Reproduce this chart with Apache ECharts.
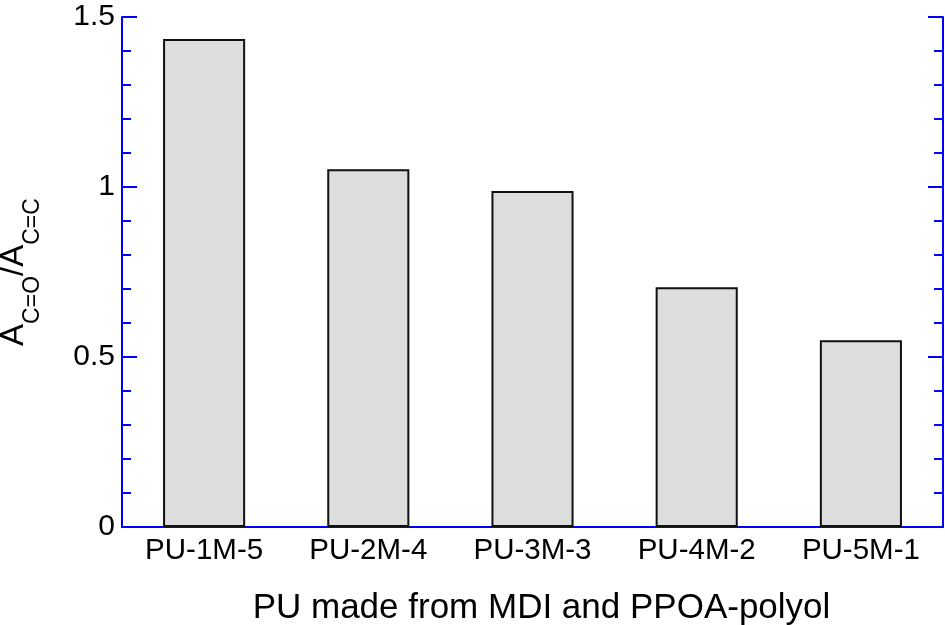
<!DOCTYPE html>
<html><head><meta charset="utf-8">
<script src="https://cdn.jsdelivr.net/npm/echarts@6/dist/echarts.min.js"></script>
<style>html,body{margin:0;padding:0;background:#fff}#c{width:945px;height:625px}</style>
</head><body><div id="c"></div>
<script>
const categories = ['PU-1M-5', 'PU-2M-4', 'PU-3M-3', 'PU-4M-2', 'PU-5M-1'];
const ratioValues = [1.435, 1.052, 0.988, 0.705, 0.549];
const yTicks = [0, 0.5, 1, 1.5];
const xTitle = 'PU made from MDI and PPOA-polyol';

const blue = '#0000ff';
const font = 'Liberation Sans, Arial, sans-serif';
const chart = echarts.init(document.getElementById('c'));
const yLab = v => (yTicks.indexOf(v) >= 0 ? String(v) : '');
chart.setOption({
  animation: false,
  grid: { left: 122, right: 2, top: 17, bottom: 98, containLabel: false, outerBoundsMode: 'none' },
  xAxis: [{
    type: 'category', data: categories, position: 'bottom',
    axisLine: { lineStyle: { color: blue, width: 2 } },
    axisTick: { inside: true, length: 15, lineStyle: { color: blue, width: 2 }, alignWithLabel: false },
    axisLabel: { color: '#000', fontSize: 29.5, fontFamily: font, margin: 9 },
    name: xTitle, nameLocation: 'middle', nameGap: 64,
    nameTextStyle: { color: '#000', fontSize: 35, fontFamily: font, padding: [0, 0, 0, 18] }
  }, {
    type: 'category', data: categories, position: 'top',
    axisLine: { lineStyle: { color: blue, width: 2 } },
    axisTick: { inside: true, length: 15, lineStyle: { color: blue, width: 2 } },
    axisLabel: { show: false }
  }],
  yAxis: [{
    type: 'value', min: 0, max: 1.5, interval: 0.5, position: 'left',
    axisLine: { show: true, lineStyle: { color: blue, width: 2 } },
    axisTick: { show: true, inside: true, length: 15, lineStyle: { color: blue, width: 2 } },
    minorTick: { show: true, splitNumber: 5, length: 9, lineStyle: { color: blue, width: 2 } },
    splitLine: { show: false },
    axisLabel: { color: '#000', fontSize: 30, fontFamily: font, margin: 7, formatter: yLab },
    name: '{a|A}{s|C=O}{a|/A}{s|C=C}', nameLocation: 'middle', nameRotate: 90, nameGap: 92,
    nameTextStyle: {
      color: '#000', fontFamily: font,
      rich: {
        a: { fontSize: 33, fontFamily: font, color: '#000', verticalAlign: 'bottom', lineHeight: 36 },
        s: { fontSize: 23, fontFamily: font, color: '#000', verticalAlign: 'bottom', lineHeight: 36, padding: [0, 0, -14, 0] }
      }
    }
  }, {
    type: 'value', min: 0, max: 1.5, interval: 0.5, position: 'right',
    axisLine: { show: true, lineStyle: { color: blue, width: 2 } },
    axisTick: { show: true, inside: true, length: 15, lineStyle: { color: blue, width: 2 } },
    minorTick: { show: true, splitNumber: 5, length: 9, lineStyle: { color: blue, width: 2 } },
    splitLine: { show: false },
    axisLabel: { show: false }
  }],
  series: [{
    type: 'bar', data: ratioValues, barWidth: '50%',
    itemStyle: { color: '#dcdddd', borderColor: '#111', borderWidth: 2 }
  }]
});
</script></body></html>
